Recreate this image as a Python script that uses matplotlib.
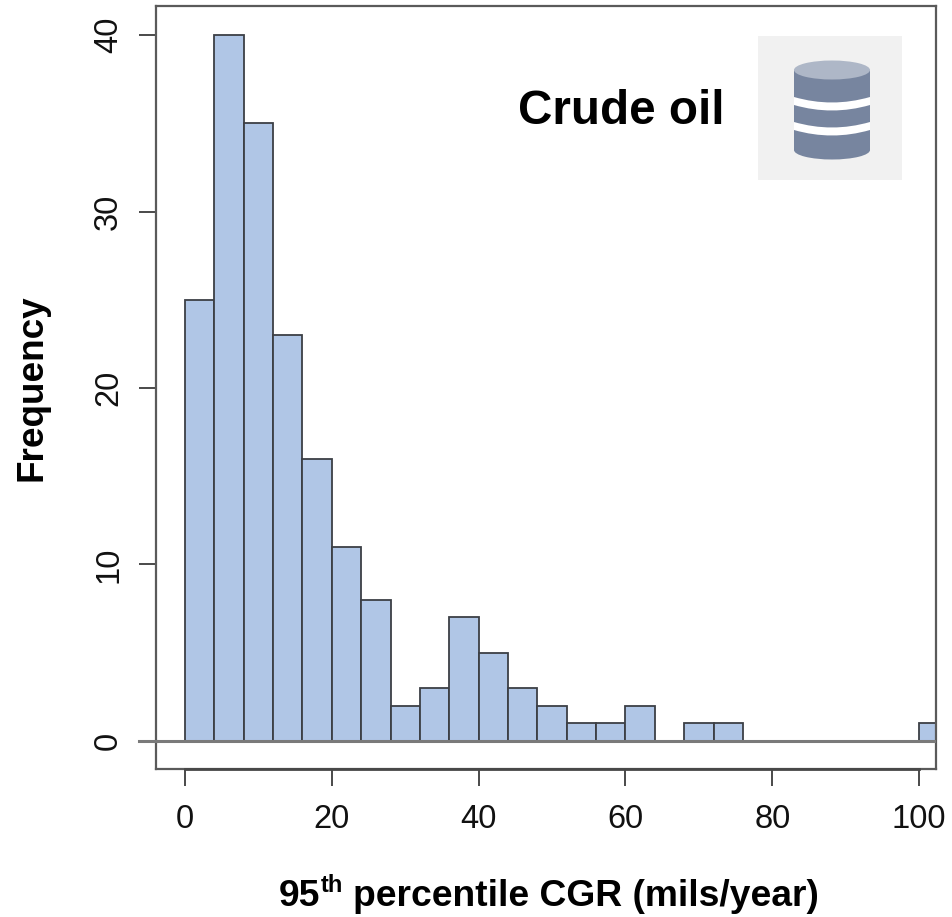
import matplotlib
matplotlib.use('Agg')
import matplotlib.pyplot as plt
from matplotlib.patches import Rectangle, Ellipse, PathPatch
from matplotlib.path import Path

bin_left = [0, 4, 8, 12, 16, 20, 24, 28, 32, 36, 40, 44, 48, 52, 56, 60, 64, 68, 72, 76, 80, 84, 88, 92, 96, 100]
counts = [25, 40, 35, 23, 16, 11, 8, 2, 3, 7, 5, 3, 2, 1, 1, 2, 0, 1, 1, 0, 0, 0, 0, 0, 0, 1]
x_ticks = [0, 20, 40, 60, 80, 100]
y_ticks = [0, 10, 20, 30, 40]
bin_width = 4

W, H = 953, 917
plt.rcParams['font.family'] = ['Liberation Sans', 'DejaVu Sans']
fig = plt.figure(figsize=(W / 100, H / 100), dpi=100)
L, R, T, B = 156, 936, 6, 769
ax = fig.add_axes([L / W, 1 - B / H, (R - L) / W, (B - T) / H])
ax.set_xlim(-3.95, 102.3)
ax.set_ylim(-1.59, 41.65)
DARK = '#4a4a4a'
bars = ax.bar(bin_left, counts, width=bin_width, align='edge', color='#B0C6E6', edgecolor='#3c3f45', linewidth=1.3, zorder=2)
ax.axhline(0, color='#7a7a7a', lw=2.2, zorder=3)
ax.plot([-6.3, -3.95], [0, 0], color='#7a7a7a', lw=2.2, clip_on=False, zorder=3)
for s in ax.spines.values():
    s.set_color('#5a5a5a')
    s.set_linewidth(1.6)
ax.set_xticks(x_ticks)
ax.set_yticks(y_ticks)
ax.tick_params(axis='x', length=12.5, width=1.4, color=DARK, labelsize=23.5, pad=12.5, labelcolor='#111111')
ax.tick_params(axis='y', length=12.5, width=1.4, color=DARK, labelsize=23.5, pad=10.5, labelcolor='#111111')
for t in ax.get_yticklabels():
    t.set_rotation(90)
    t.set_va('center')
ax.plot(x_ticks[:1] + x_ticks[-1:], [-1.59, -1.59], color='#484848', lw=2.0, clip_on=False, zorder=4)

fig.text(621 / W, 1 - 112 / H, 'Crude oil', fontsize=34.3, fontweight='bold', ha='center', va='center', color='#000')
fig.text(32 / W, 1 - 388 / H, 'Frequency', fontsize=26.6, fontweight='bold', rotation=90, ha='center', va='center', color='#000')

# x label with superscript, placed piece by piece
fig.canvas.draw()
r = fig.canvas.get_renderer()
y_base = 1 - 906 / H
t1 = fig.text(279 / W, y_base, '95', fontsize=26.8, fontweight='bold', ha='left', va='baseline', color='#000')
x1 = t1.get_window_extent(r).x1
t2 = fig.text(x1 / W, y_base + 14 / H, 'th', fontsize=17, fontweight='bold', ha='left', va='baseline', color='#000')
fig.text(819 / W, y_base, 'percentile CGR (mils/year)', fontsize=26.8, fontweight='bold', ha='right', va='baseline', color='#000')

# icon overlay in pixel coordinates
ov = fig.add_axes([0, 0, 1, 1], zorder=5)
ov.set_xlim(0, W)
ov.set_ylim(H, 0)
ov.axis('off')
ov.patch.set_alpha(0)
ov.add_patch(Rectangle((758, 36), 144, 144, color='#F1F1F1', lw=0))
body = '#77859F'
cx, rx, ry = 832, 38, 9.5
ov.add_patch(Rectangle((cx - rx, 70), 2 * rx, 80, color=body, lw=0))
ov.add_patch(Ellipse((cx, 150), 2 * rx, 2 * ry, color=body, lw=0))
for top in (97, 122):
    sag = 11
    verts = [(cx - rx, top), (cx, top + sag), (cx + rx, top), (cx + rx, top + 8), (cx, top + sag + 8), (cx - rx, top + 8), (cx - rx, top)]
    codes = [Path.MOVETO, Path.CURVE3, Path.CURVE3, Path.LINETO, Path.CURVE3, Path.CURVE3, Path.CLOSEPOLY]
    ov.add_patch(PathPatch(Path(verts, codes), color='white', lw=0))
ov.add_patch(Ellipse((cx, 70), 2 * rx, 2 * ry, color='#AEB7C7', lw=0))
fig.savefig('out.png', dpi=100)
